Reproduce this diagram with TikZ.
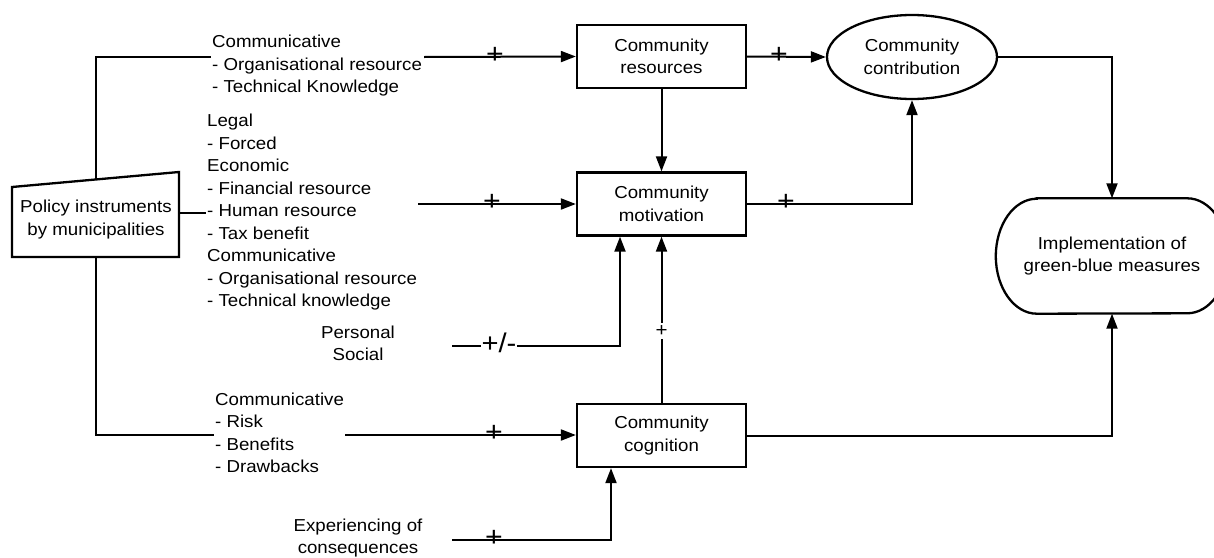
\documentclass[tikz,border=0pt]{standalone}
\usepackage{fontspec}
\setmainfont{Liberation Sans}[FakeStretch=1.08]
\usetikzlibrary{arrows.meta,shapes.geometric,calc}
\begin{document}
\begin{tikzpicture}[x=1pt,y=-1pt,
  every node/.style={font=\fontsize{17.3}{22.5}\selectfont},
  lbl/.style={inner sep=0pt,align=left},
  clbl/.style={inner sep=0pt,align=center},
  boxline/.style={line width=2.3pt},
  cbox/.style={draw,line width=2.3pt,minimum width=169pt,minimum height=63pt,align=center,inner sep=0pt},
  conn/.style={line width=2pt},
  arr/.style={line width=2pt,-{Triangle[length=15pt,width=11pt]}},
  plus/.style={inner sep=0pt,font=\fontsize{28}{28}\selectfont},
  pm/.style={inner xsep=1pt,inner ysep=0pt,fill=white,font=\fontsize{27}{27}\selectfont},
  splus/.style={inner xsep=0pt,inner ysep=3pt,fill=white,font=\fontsize{19}{19}\selectfont}]
\useasboundingbox (0,0) rectangle (1214,557);
\clip (0,0) rectangle (1214,557);
\fill[white] (0,0) rectangle (1214,557);

% policy instruments
\draw[boxline] (12,187) -- (179,172) -- (179,257) -- (12,257) -- cycle;
\node[clbl] (policy) at (96,219.5) {Policy instruments\\by municipalities};
\coordinate (ptop) at (96,179.5);
\coordinate (pbot) at (96,257);
\coordinate (pright) at (179,213);

% text blocks
\node[lbl,anchor=west] (t1) at (212,66) {Communicative\\- Organisational resource\\- Technical Knowledge};
\node[lbl,anchor=west] (t2) at (207,212.5) {Legal\\- Forced\\Economic\\- Financial resource\\- Human resource\\- Tax benefit\\Communicative\\- Organisational resource\\- Technical knowledge};
\node[lbl,anchor=west] (t3) at (215,433) {Communicative\\- Risk\\- Benefits\\- Drawbacks};
\node[clbl] (t4) at (358,343.5) {Personal\\Social};
\node[clbl] (t5) at (358,538) {Experiencing of\\consequences};

% main nodes
\node[cbox] (res) at (661.5,56.5) {Community\\resources};
\node[cbox] (mot) at (661.5,204) {Community\\motivation};
\node[cbox] (cog) at (661.5,435.5) {Community\\cognition};
\node[draw,ellipse,line width=2.3pt,minimum width=170pt,minimum height=84pt,inner sep=0pt,align=center] (contr) at (912,57) {Community\\contribution};
\node[minimum width=232pt,minimum height=115pt,inner sep=0pt,align=center] (impl) at (1112,256) {Implementation of\\green-blue measures};
\draw[boxline] ([xshift=41pt]impl.north west) -- ([xshift=-41pt]impl.north east)
  arc[start angle=90,end angle=-90,x radius=41pt,y radius=57.5pt]
  -- ([xshift=41pt]impl.south west)
  arc[start angle=270,end angle=90,x radius=41pt,y radius=57.5pt] -- cycle;

% connector end points
\coordinate (c1) at (211,57);
\coordinate (c2) at (424,57);
\coordinate (c3) at (206,213);
\coordinate (c4) at (418,204);
\coordinate (c5) at (452,346);
\coordinate (c6) at (345,435);
\coordinate (c7) at (214,435);
\coordinate (c8) at (452,540);

% policy lines
\draw[conn] (ptop) |- (c1);
\draw[conn] (pright) -- (c3);
\draw[conn] (pbot) |- (c7);

% inputs
\draw[arr] (c2) -- (res.west);
\node[plus] (p1) at (495,55.5) {+};
\draw[arr] (c4) -- (mot.west |- c4);
\node[plus] (p2) at (492,202.5) {+};
\draw[arr] (c5) -| ([xshift=-41.5pt]mot.south);
\node[pm] (p3) at (499,343) {+/-};
\draw[arr] (c6) -- (cog.west |- c6);
\node[plus] (p4) at (494,433.5) {+};
\draw[arr] (c8) -| ([xshift=-50.5pt]cog.south);
\node[plus] (p5) at (494,538.5) {+};

% internal
\draw[arr] (res.south) -- (mot.north);
\draw[arr] (cog.north) -- (mot.south);
\node[splus] (p6) at (661.5,331) {+};
\draw[arr] (res.east) -- (contr.west);
\node[plus] (p7) at (779,55.5) {+};
\draw[arr] (mot.east) -| (contr.south);
\node[plus] (p8) at (786,202.5) {+};
\draw[arr] (contr.east) -| (impl.north);
\draw[arr] (cog.east) -| (impl.south);
\end{tikzpicture}
\end{document}
